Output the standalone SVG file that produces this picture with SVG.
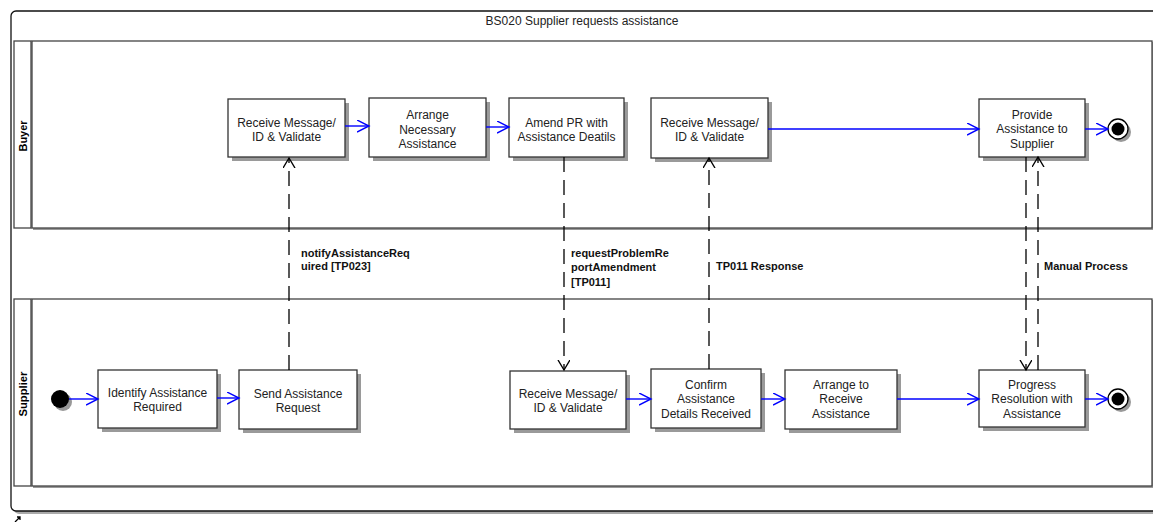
<svg xmlns="http://www.w3.org/2000/svg" width="1153" height="522" viewBox="0 0 1153 522">
<style>
  .frame{fill:#fff;stroke:#111;stroke-width:1.3}
  .shadowf{fill:#aaa}
  .lane{fill:#fff;stroke:#444;stroke-width:1.3}
  .box{fill:#fff;stroke:#333;stroke-width:1.3}
  .bsh{fill:#9a9a9a}
  .t{font-family:"Liberation Sans",Arial,sans-serif;font-size:12px;fill:#222;text-anchor:middle}
  .lbl{font-family:"Liberation Sans",Arial,sans-serif;font-size:11px;font-weight:bold;fill:#111}
  .lanet{font-family:"Liberation Sans",Arial,sans-serif;font-size:11px;font-weight:bold;fill:#000;text-anchor:middle}
  .flow{fill:none;stroke:#0000ff;stroke-width:1.4}
  .msg{fill:none;stroke:#000;stroke-width:1.3;stroke-dasharray:15 8}
</style>
<defs>
  <marker id="ab" markerUnits="userSpaceOnUse" markerWidth="16" markerHeight="16" refX="12" refY="6" orient="auto">
    <path d="M0,0 L12,6 L0,12" fill="none" stroke="#0000ff" stroke-width="1.4"/>
  </marker>
  <marker id="ak" markerUnits="userSpaceOnUse" markerWidth="16" markerHeight="16" refX="10" refY="6" orient="auto">
    <path d="M0,0 L10,6 L0,12" fill="none" stroke="#000" stroke-width="1.4" stroke-dasharray="none"/>
  </marker>
</defs>

<g id="frame">
  <rect x="14" y="14" width="1160" height="500" rx="5" class="shadowf"/>
  <rect x="11" y="11" width="1160" height="500" rx="5" class="frame"/>
  <text x="582" y="25" class="t">BS020 Supplier requests assistance</text>
  <path d="M15,522 L20,517 M17,517 L20,517 L20,520" stroke="#000" stroke-width="1.3" fill="none"/>
</g>

<g id="lane-buyer">
  <rect x="33" y="42" width="1120" height="188" fill="#999"/>
  <rect x="14" y="41" width="17" height="187" class="lane"/>
  <rect x="32" y="41" width="1120" height="187" class="lane"/>
  <text class="lanet" transform="translate(26.5,136) rotate(-90)" textLength="31" lengthAdjust="spacingAndGlyphs">Buyer</text>
</g>
<g id="lane-supplier">
  <rect x="33" y="300" width="1120" height="188" fill="#999"/>
  <rect x="14" y="299" width="17" height="187" class="lane"/>
  <rect x="32" y="299" width="1120" height="187" class="lane"/>
  <text class="lanet" transform="translate(26.5,394) rotate(-90)" textLength="45" lengthAdjust="spacingAndGlyphs">Supplier</text>
</g>

<g id="b-receive1">
  <rect x="232" y="103" width="117" height="58" class="bsh"/>
  <rect x="228" y="99" width="117" height="58" class="box"/>
  <text class="t" x="286.5" y="127">Receive Message/</text>
  <text class="t" x="286.5" y="141">ID &amp; Validate</text>
</g>
<g id="b-arrange">
  <rect x="373" y="102" width="117" height="59" class="bsh"/>
  <rect x="369" y="98" width="117" height="59" class="box"/>
  <text class="t" x="427.5" y="119">Arrange</text>
  <text class="t" x="427.5" y="134">Necessary</text>
  <text class="t" x="427.5" y="148">Assistance</text>
</g>
<g id="b-amend">
  <rect x="513" y="102" width="115" height="59" class="bsh"/>
  <rect x="509" y="98" width="115" height="59" class="box"/>
  <text class="t" x="566.5" y="127">Amend PR with</text>
  <text class="t" x="566.5" y="141">Assistance Deatils</text>
</g>
<g id="b-receive2">
  <rect x="655" y="102" width="117" height="60" class="bsh"/>
  <rect x="651" y="98" width="117" height="60" class="box"/>
  <text class="t" x="709.5" y="127">Receive Message/</text>
  <text class="t" x="709.5" y="141">ID &amp; Validate</text>
</g>
<g id="b-provide">
  <rect x="983" y="103" width="106" height="58" class="bsh"/>
  <rect x="979" y="99" width="106" height="58" class="box"/>
  <text class="t" x="1032" y="119">Provide</text>
  <text class="t" x="1032" y="133">Assistance to</text>
  <text class="t" x="1032" y="148">Supplier</text>
</g>
<g id="b-end">
  <circle cx="1121" cy="132" r="10" fill="#999"/>
  <circle cx="1118" cy="129" r="10" fill="#fff" stroke="#000" stroke-width="1.3"/>
  <circle cx="1118" cy="129" r="6.5" fill="#000"/>
</g>

<g id="s-start">
  <circle cx="63" cy="402" r="9" fill="#999"/>
  <circle cx="60" cy="399" r="9" fill="#000"/>
</g>
<g id="s-identify">
  <rect x="102" y="374" width="119" height="58" class="bsh"/>
  <rect x="98" y="370" width="119" height="58" class="box"/>
  <text class="t" x="157.5" y="397">Identify Assistance</text>
  <text class="t" x="157.5" y="411">Required</text>
</g>
<g id="s-send">
  <rect x="243" y="374" width="118" height="59" class="bsh"/>
  <rect x="239" y="370" width="118" height="59" class="box"/>
  <text class="t" x="298" y="398">Send Assistance</text>
  <text class="t" x="298" y="412">Request</text>
</g>
<g id="s-receive">
  <rect x="514" y="375" width="116" height="58" class="bsh"/>
  <rect x="510" y="371" width="116" height="58" class="box"/>
  <text class="t" x="568" y="398">Receive Message/</text>
  <text class="t" x="568" y="412">ID &amp; Validate</text>
</g>
<g id="s-confirm">
  <rect x="655" y="373" width="110" height="59" class="bsh"/>
  <rect x="651" y="369" width="110" height="59" class="box"/>
  <text class="t" x="706" y="389">Confirm</text>
  <text class="t" x="706" y="403">Assistance</text>
  <text class="t" x="706" y="418">Details Received</text>
</g>
<g id="s-arrange">
  <rect x="789" y="374" width="112" height="59" class="bsh"/>
  <rect x="785" y="370" width="112" height="59" class="box"/>
  <text class="t" x="841" y="389">Arrange to</text>
  <text class="t" x="841" y="403">Receive</text>
  <text class="t" x="841" y="418">Assistance</text>
</g>
<g id="s-progress">
  <rect x="983" y="374" width="106" height="57" class="bsh"/>
  <rect x="979" y="370" width="106" height="57" class="box"/>
  <text class="t" x="1032" y="389">Progress</text>
  <text class="t" x="1032" y="403">Resolution with</text>
  <text class="t" x="1032" y="418">Assistance</text>
</g>
<g id="s-end">
  <circle cx="1121" cy="402" r="10" fill="#999"/>
  <circle cx="1118" cy="399" r="10" fill="#fff" stroke="#000" stroke-width="1.3"/>
  <circle cx="1118" cy="399" r="6.5" fill="#000"/>
</g>

<g id="connectors">
  <path class="flow" marker-end="url(#ab)" d="M345,126 L369,126"/>
  <path class="flow" marker-end="url(#ab)" d="M486,127 L509,127"/>
  <path class="flow" marker-end="url(#ab)" d="M768,129 L979,129"/>
  <path class="flow" marker-end="url(#ab)" d="M1085,129 L1108,129"/>
  <path class="flow" marker-end="url(#ab)" d="M69,399 L98,399"/>
  <path class="flow" marker-end="url(#ab)" d="M217,398 L239,398"/>
  <path class="flow" marker-end="url(#ab)" d="M626,399 L651,399"/>
  <path class="flow" marker-end="url(#ab)" d="M761,399 L785,399"/>
  <path class="flow" marker-end="url(#ab)" d="M897,399 L979,399"/>
  <path class="flow" marker-end="url(#ab)" d="M1085,399 L1108,399"/>

  <path class="msg" marker-end="url(#ak)" d="M289,370 L289,158"/>
  <path class="msg" marker-end="url(#ak)" d="M564,157 L564,370"/>
  <path class="msg" marker-end="url(#ak)" d="M709,369 L709,158"/>
  <path class="msg" marker-end="url(#ak)" d="M1026,157 L1026,370"/>
  <path class="msg" marker-end="url(#ak)" d="M1038,370 L1038,157"/>

  <text class="lbl" x="301" y="257">notifyAssistanceReq</text>
  <text class="lbl" x="301" y="270">uired [TP023]</text>
  <text class="lbl" x="571" y="257">requestProblemRe</text>
  <text class="lbl" x="571" y="271">portAmendment</text>
  <text class="lbl" x="571" y="286">[TP011]</text>
  <text class="lbl" x="716" y="270">TP011 Response</text>
  <text class="lbl" x="1044" y="270">Manual Process</text>
</g>
</svg>
